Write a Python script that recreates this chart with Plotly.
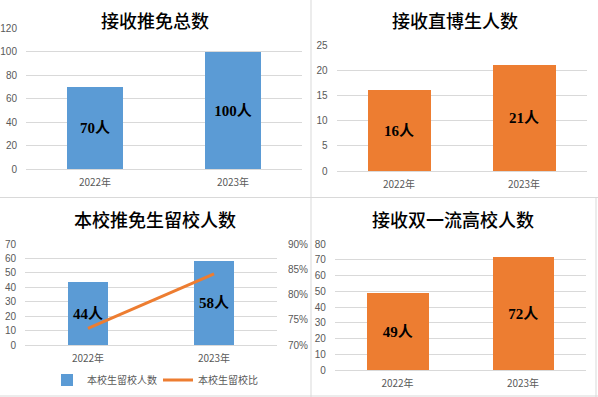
import plotly.graph_objects as go

W, H = 598, 397

years = ["2022年", "2023年"]
total_recommended = [70, 100]
direct_phd = [16, 21]
own_school_stay = [44, 58]
own_school_ratio = [0.733, 0.841]
double_first_class = [49, 72]

titles = ["接收推免总数", "接收直博生人数", "本校推免生留校人数", "接收双一流高校人数"]

BLUE = "#5B9BD5"
ORANGE = "#ED7D31"
GRID = "#D9D9D9"
TICK = "#595959"
CJK = "Noto Sans CJK SC"
LABEL_FONT = dict(family="Liberation Serif, Noto Sans CJK SC", size=15, color="#000000", weight="bold")


def px(x):
    return x / W


def py(y):
    return 1 - y / H


fig = go.Figure()

panels = [
    ("x", "y", (26, 302), (169, 28), total_recommended, BLUE, [0, 120], 20, 0.41),
    ("x2", "y2", (336.5, 586.5), (171, 45), direct_phd, ORANGE, [0, 25], 5, 0.5),
    ("x3", "y3", (25, 277), (345, 244), own_school_stay, BLUE, [0, 70], 10, 0.32),
    ("x4", "y4", (334.75, 585.75), (370, 244), double_first_class, ORANGE, [0, 80], 10, 0.49),
]

for i, (xa, ya, xd, yd, vals, col, rng, dt, bw) in enumerate(panels):
    fig.add_trace(go.Bar(
        x=years, y=vals, xaxis=xa, yaxis=ya,
        marker=dict(color=col, line=dict(width=0)),
        width=bw,
        texttemplate="%{y}人", textposition="inside", insidetextanchor="middle",
        textfont=LABEL_FONT, textangle=0,
        name="本校生留校人数" if i == 2 else "",
        showlegend=(i == 2),
        hoverinfo="skip",
    ))
    sfx = "" if xa == "x" else xa[1:]
    fig.update_layout(**{
        "xaxis" + sfx: dict(
            domain=[px(xd[0]), px(xd[1])], anchor=ya,
            showgrid=False, showline=False, zeroline=False,
            tickfont=dict(family=CJK, size=10, color=TICK),
            ticklabelstandoff=6, fixedrange=True, automargin=False,
        ),
        "yaxis" + sfx: dict(
            domain=[py(yd[0]), py(yd[1])], anchor=xa,
            range=rng, dtick=dt, showgrid=True, gridcolor=GRID, gridwidth=1,
            zeroline=True, zerolinecolor=GRID, zerolinewidth=1, showline=False,
            tickfont=dict(family="Liberation Sans, " + CJK, size=10, color=TICK),
            ticklabelstandoff=8, fixedrange=True, automargin=False,
        ),
    })

fig.add_trace(go.Scatter(
    x=years, y=own_school_ratio, xaxis="x3", yaxis="y5",
    mode="lines", line=dict(color=ORANGE, width=3),
    name="本校生留校比", showlegend=True, hoverinfo="skip",
))
fig.update_layout(yaxis5=dict(
    overlaying="y3", side="right", anchor="x3",
    range=[0.7, 0.9], dtick=0.05, tickformat=".0%",
    showgrid=False, zeroline=False, showline=False,
    tickfont=dict(family="Liberation Sans, " + CJK, size=10, color=TICK),
    ticklabelstandoff=10, fixedrange=True, automargin=False,
))

title_pos = [(155, 20), (455, 20), (155, 219), (453, 219)]
for t, (tx, ty) in zip(titles, title_pos):
    fig.add_annotation(
        text=t, x=px(tx), y=py(ty), xref="paper", yref="paper",
        xanchor="center", yanchor="middle", showarrow=False,
        font=dict(family=CJK, size=18, color="#000000", weight=500),
    )

BORDER = "#D9D9D9"
for (x0, y0, x1, y1) in [(311, 0, 311, 397), (0, 197.5, 598, 197.5),
                          (0, 396, 598, 396), (596, 198, 596, 397)]:
    fig.add_shape(type="line", xref="paper", yref="paper",
                  x0=px(x0), y0=py(y0), x1=px(x1), y1=py(y1),
                  line=dict(color=BORDER, width=1))

fig.update_layout(
    width=W, height=H, margin=dict(l=0, r=0, t=0, b=0, autoexpand=False),
    paper_bgcolor="white", plot_bgcolor="white",
    showlegend=True,
    legend=dict(orientation="h", x=px(47), y=py(380), xanchor="left", yanchor="middle",
                font=dict(family=CJK, size=10, color=TICK),
                itemwidth=30, entrywidth=66, entrywidthmode="pixels",
                tracegroupgap=0, bgcolor="rgba(0,0,0,0)"),
    bargap=0,
)

fig.write_html("out.html", config={"displayModeBar": False},
               post_script="document.body.style.margin='0';document.body.style.overflow='hidden';")
